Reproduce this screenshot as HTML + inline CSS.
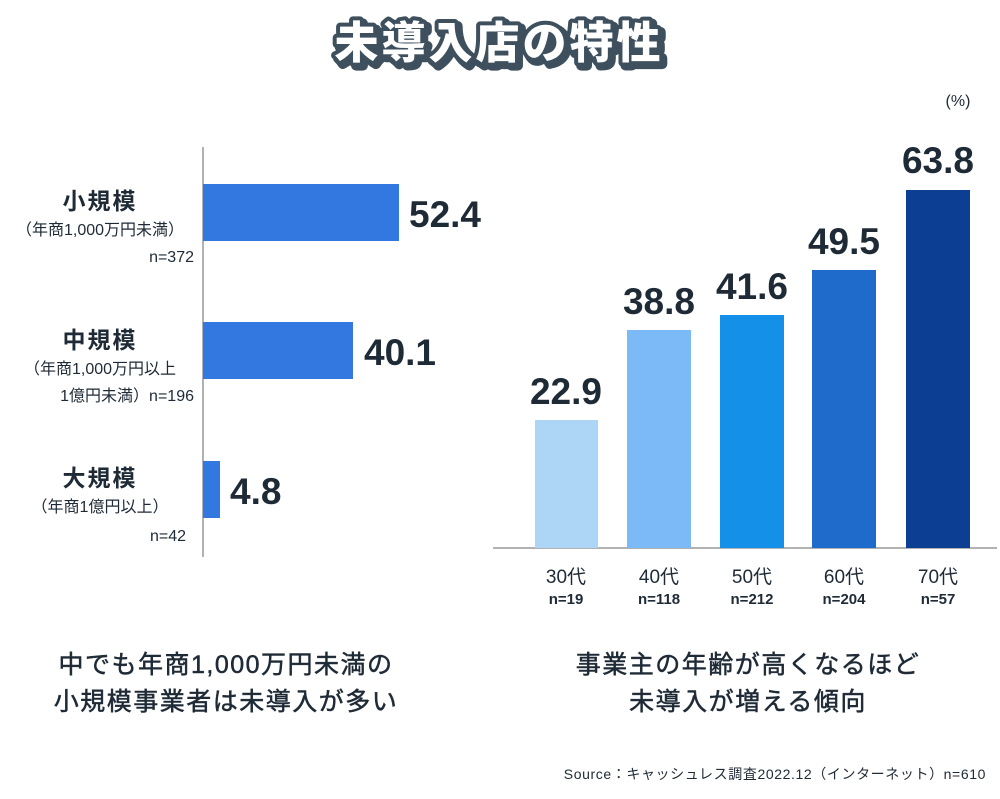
<!DOCTYPE html>
<html><head><meta charset="utf-8"><style>
body{margin:0;background:#fff;}
svg text{font-family:"Liberation Sans","Noto Sans CJK JP",sans-serif;}
</style></head><body>
<svg width="1000" height="794" viewBox="0 0 1000 794" xmlns="http://www.w3.org/2000/svg">
<rect width="1000" height="794" fill="#fff"/>
<!-- title -->
<text x="502" y="61" text-anchor="middle" font-size="44" font-weight="900" fill="#3e4f5e" stroke="#3e4f5e" stroke-width="10" stroke-linejoin="round" letter-spacing="3">未導入店の特性</text>
<text x="499" y="58" text-anchor="middle" font-size="44" font-weight="900" fill="#fff" stroke="#3e4f5e" stroke-width="8" stroke-linejoin="round" paint-order="stroke" letter-spacing="3">未導入店の特性</text>

<!-- left chart -->
<line x1="203" y1="147" x2="203" y2="557" stroke="#999" stroke-width="1.5"/>
<rect x="203" y="184" width="196" height="57" fill="#3378e0"/>
<rect x="203" y="322" width="150" height="57" fill="#3378e0"/>
<rect x="203" y="461" width="17" height="57" fill="#3378e0"/>
<g font-weight="bold" font-size="37" fill="#1e2a36">
<text x="409" y="227">52.4</text>
<text x="364" y="365">40.1</text>
<text x="230" y="504">4.8</text>
</g>
<g fill="#1e2a36" text-anchor="middle">
<text x="100" y="209" font-size="23" font-weight="bold" letter-spacing="2">小規模</text>
<text x="100" y="235" font-size="16">（年商1,000万円未満）</text>
<text x="100" y="348" font-size="23" font-weight="bold" letter-spacing="2">中規模</text>
<text x="100" y="374" font-size="16">（年商1,000万円以上</text>
<text x="100" y="486" font-size="23" font-weight="bold" letter-spacing="2">大規模</text>
<text x="100" y="512" font-size="16">（年商1億円以上）</text>
</g>
<g fill="#1e2a36" text-anchor="end" font-size="16">
<text x="194" y="262">n=372</text>
<text x="194" y="401">1億円未満）n=196</text>
<text x="186" y="541">n=42</text>
</g>

<!-- right chart -->
<text x="958" y="106" text-anchor="middle" font-size="16" fill="#1e2a36">(%)</text>
<line x1="493" y1="548" x2="997" y2="548" stroke="#999" stroke-width="1.5"/>
<rect x="535" y="420" width="63" height="128" fill="#acd5f6"/>
<rect x="627" y="330" width="64" height="218" fill="#7bb9f7"/>
<rect x="720" y="315" width="64" height="233" fill="#1590e8"/>
<rect x="812" y="270" width="64" height="278" fill="#1f6bcc"/>
<rect x="906" y="190" width="64" height="358" fill="#0c3f94"/>
<g font-weight="bold" font-size="37" fill="#1e2a36" text-anchor="middle">
<text x="566" y="404">22.9</text>
<text x="659" y="314">38.8</text>
<text x="752" y="299">41.6</text>
<text x="844" y="254">49.5</text>
<text x="938" y="173">63.8</text>
</g>
<g fill="#1e2a36" text-anchor="middle">
<g font-size="19"><text x="566" y="583">30代</text><text x="659" y="583">40代</text><text x="752" y="583">50代</text><text x="844" y="583">60代</text><text x="938" y="583">70代</text></g>
<g font-size="15" font-weight="bold"><text x="566" y="604">n=19</text><text x="659" y="604">n=118</text><text x="752" y="604">n=212</text><text x="844" y="604">n=204</text><text x="938" y="604">n=57</text></g>
</g>

<!-- captions -->
<g fill="#1e2a36" text-anchor="middle" font-size="25" letter-spacing="1.5" stroke="#1e2a36" stroke-width="0.5">
<text x="226" y="673">中でも年商1,000万円未満の</text>
<text x="226" y="710">小規模事業者は未導入が多い</text>
<text x="748" y="673">事業主の年齢が高くなるほど</text>
<text x="748" y="710">未導入が増える傾向</text>
</g>
<text x="986" y="779" text-anchor="end" font-size="14" fill="#1e2a36" letter-spacing="0.6">Source：キャッシュレス調査2022.12（インターネット）n=610</text>
</svg>
</body></html>
